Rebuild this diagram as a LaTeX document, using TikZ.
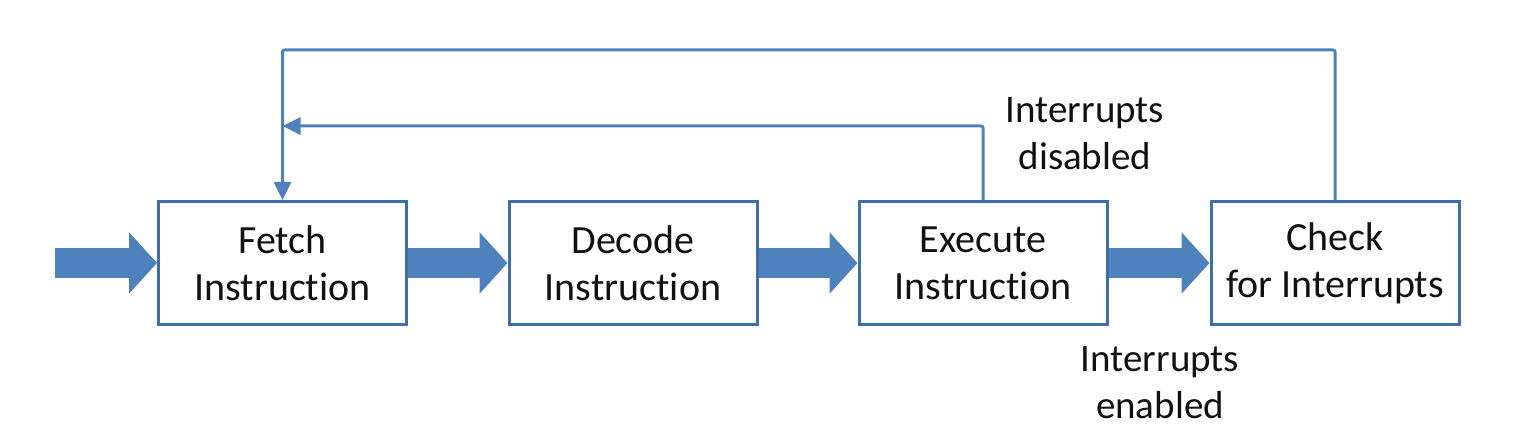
\documentclass[tikz,border=0pt]{standalone}
\usepackage{fontspec}
\setmainfont{Carlito}[Ligatures=NoCommon]
\usetikzlibrary{arrows.meta,positioning}
\definecolor{CycleBlue}{HTML}{4F81BD}
\definecolor{CycleEdge}{HTML}{3F6FAA}
\definecolor{CycleInk}{HTML}{111111}

\begin{document}
\begin{tikzpicture}[x=1pt,y=-1pt,>=Triangle]
\tikzset{
  stage/.style={draw=CycleEdge,line width=3pt,minimum width=248pt,minimum height=123pt,align=center,text=CycleInk,fill=white,font=\fontsize{40}{47}\selectfont},
  note/.style={align=center,text=CycleInk,font=\fontsize{39}{47}\selectfont},
  flow/.style={CycleBlue,line width=30pt,-{Triangle[length=28pt,width=60pt]}},
  loopline/.style={draw=CycleBlue,line width=3pt,rounded corners=2pt}
}
\useasboundingbox (0,0) rectangle (1517,443);

% the four stages of the cycle
\node[stage] (fetch) at (282.5,263) {Fetch\\Instruction};
\node[stage] (decode) at (633,263) {Decode\\Instruction};
\node[stage] (exec) at (983,263) {Execute\\Instruction};
\node[stage] (check) at (1335,263) {Check\\for Interrupts};

\coordinate (start) at (55,263);
\draw[flow] (start)--(fetch.west);
\draw[flow] (fetch.east)--(decode.west);
\draw[flow] (decode.east)--(exec.west);
\draw[flow] (exec.east)--(check.west);

% back to fetch
\coordinate (merge) at (fetch.north |- 0,126);
\draw[loopline,-{Triangle[length=18pt,width=17pt]}] (check.north)--++(0,-150) -| (fetch.north);
\draw[loopline,-{Triangle[length=18pt,width=17pt]}] (exec.north) |- (merge);

\node[note] (disabled) at (1085,134) {Interrupts\\disabled};
\node[note] (enabled) at (1160,383) {Interrupts\\enabled};
\end{tikzpicture}
\end{document}
